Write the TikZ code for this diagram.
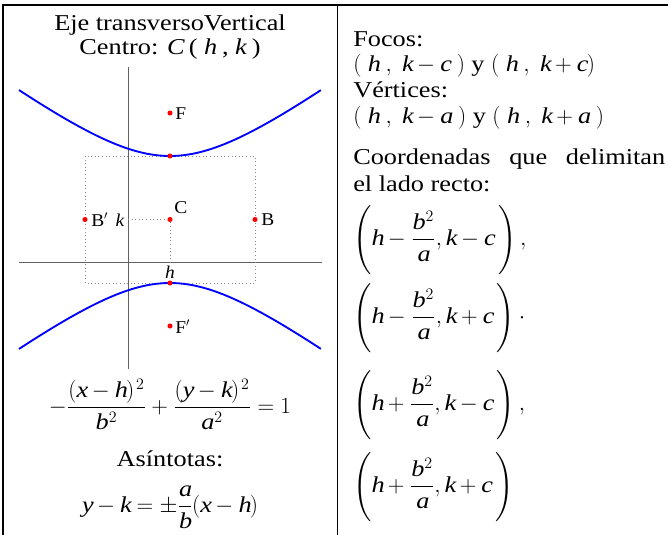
\documentclass[tikz,border=0pt]{standalone}
\usepackage{amsmath}
\usepackage{fontspec}
\setmainfont{Liberation Serif}[NFSSFamily=libser, FakeStretch=1.16]
\newfontfamily\labelfont{Liberation Serif}[NFSSFamily=liblbl, FakeStretch=1.08]
\DeclareSymbolFont{libit}{TU}{libser}{m}{it}
\DeclareSymbolFont{libup}{TU}{libser}{m}{n}
\DeclareMathSymbol{a}{\mathalpha}{libit}{`a}
\DeclareMathSymbol{b}{\mathalpha}{libit}{`b}
\DeclareMathSymbol{c}{\mathalpha}{libit}{`c}
\DeclareMathSymbol{h}{\mathalpha}{libit}{`h}
\DeclareMathSymbol{k}{\mathalpha}{libit}{`k}
\DeclareMathSymbol{x}{\mathalpha}{libit}{`x}
\DeclareMathSymbol{y}{\mathalpha}{libit}{`y}
\DeclareMathSymbol{C}{\mathalpha}{libit}{`C}
\DeclareMathSymbol{+}{\mathbin}{libup}{`+}
\DeclareMathSymbol{=}{\mathrel}{libup}{`=}
\DeclareMathSymbol{(}{\mathopen}{libup}{`(}
\DeclareMathSymbol{)}{\mathclose}{libup}{`)}
\DeclareMathSymbol{1}{\mathord}{libup}{`1}
\DeclareMathSymbol{2}{\mathord}{libup}{`2}
\newcommand{\bigstrut}{\vrule height 29pt depth 22pt width 0pt}
\newcommand{\sq}{^{\mkern2mu 2}}
\tikzset{
  txt/.style={font=\fontsize{17}{19}\selectfont, anchor=base, inner sep=0pt},
  lefttxt/.style={txt, anchor=base west},
  lbl/.style={font=\labelfont\fontsize{13.5}{16}\selectfont, inner sep=0pt},
  frame/.style={line width=1.9pt, black},
  divider/.style={line width=1.1pt, black},
  axisline/.style={draw=black!62, line width=0.75pt},
  guide/.style={draw=black!45, dotted, line width=0.7pt},
  branch/.style={draw=blue, line width=1.4pt},
  pt/.style={circle, fill=red, inner sep=0pt, minimum size=3.8pt},
}
\begin{document}
\begin{tikzpicture}[x=0.75pt,y=-0.75pt]
\useasboundingbox (0,0) rectangle (668,535);
% table lines
\draw[frame] (2,5) -- (668,5);
\draw[frame] (3,4) -- (3,535);
\draw[divider] (337.5,5) -- (337.5,535);

% left cell titles
\node[txt] (t1) at (170,31) {Eje transversoVertical};
\node[txt] (t2) at (170,55) {Centro: $C$ ( $h$ , $k$ )};

% axes
\coordinate (vtop) at (128,67);
\coordinate (vbot) at (128,369);
\coordinate (hl) at (19,262);
\coordinate (hr) at (322,262);
\draw[axisline] (vtop) -- (vbot);
\draw[axisline] (hl) -- (hr);

% guide box and lines
\coordinate (box1) at (85,156);
\coordinate (box2) at (255,283);
\draw[guide] (box1) rectangle (box2);
\coordinate (kax) at (128,219.5);
\coordinate (hax) at (170,262);

% hyperbola branches
\draw[branch] plot[domain=-1.339:1.339, samples=80, smooth, variable=\t] ({170+85*sinh(\t)},{219.5-63.5*cosh(\t)});
\draw[branch] plot[domain=-1.339:1.339, samples=80, smooth, variable=\t] ({170+85*sinh(\t)},{219.5+63.5*cosh(\t)});

% points
\node[pt] (C) at (170,219.5) {};
\node[pt] (V1) at (170,156) {};
\node[pt] (V2) at (170,283) {};
\node[pt] (F) at (170,113) {};
\node[pt] (F2) at (170,326) {};
\node[pt] (Bp) at (85,219.5) {};
\node[pt] (B) at (255,219.5) {};
\draw[guide] (kax) -- (C);
\draw[guide] (C) -- (hax);

% point labels
\node[lbl, anchor=west] (lF) at (175,114) {F};
\node[lbl, anchor=west] (lF2) at (175,327) {F$'$};
\node[lbl, anchor=west] (lBp) at (91,220) {B$'$};
\node[lbl, anchor=west] (lB) at (261,220) {B};
\node[lbl, anchor=west] (lC) at (174,208) {C};
\node[lbl, anchor=center] (lk) at (120,220) {\itshape k};
\node[lbl, anchor=center] (lh) at (170,272) {\itshape h};

% left bottom formulas
\node[txt] (eq1) at (170,413.5) {$\displaystyle -\frac{(x-h)\sq}{b\sq}+\frac{(y-k)\sq}{a\sq}=1$};
\node[txt] (as) at (170,466) {Asíntotas:};
\node[txt] (eq2) at (170,512.5) {$\displaystyle y-k=\pm\frac{a}{b}(x-h)$};

% right cell
\node[lefttxt] (r1) at (353,46.5) {Focos:};
\node[lefttxt] (r2) at (353,72) {$(\;h\;,\;k-c\;)$ y $(\;h\;,\;k+c)$};
\node[lefttxt] (r3) at (353,98) {Vértices:};
\node[lefttxt] (r4) at (353,123) {$(\;h\;,\;k-a\;)$ y $(\;h\;,\;k+a\;)$};
\node[lefttxt] (r5) at (353,164) {\makebox[234pt][s]{Coordenadas que delimitan}};
\node[lefttxt] (r6) at (353,191) {el lado recto:};
\node[lefttxt] (e1) at (353,245.5) {$\displaystyle \left(\bigstrut h-\frac{b\sq}{a},k-c\,\right),$};
\node[lefttxt] (e2) at (353,323.5) {$\displaystyle \left(\bigstrut h-\frac{b\sq}{a},k+c\,\right)\mathord{\cdot}$};
\node[lefttxt] (e3) at (353,410.5) {$\displaystyle \left(\bigstrut h+\frac{b\sq}{a},k-c\,\right),$};
\node[lefttxt] (e4) at (353,492.5) {$\displaystyle \left(\bigstrut h+\frac{b\sq}{a},k+c\,\right)$};
\end{tikzpicture}
\end{document}
